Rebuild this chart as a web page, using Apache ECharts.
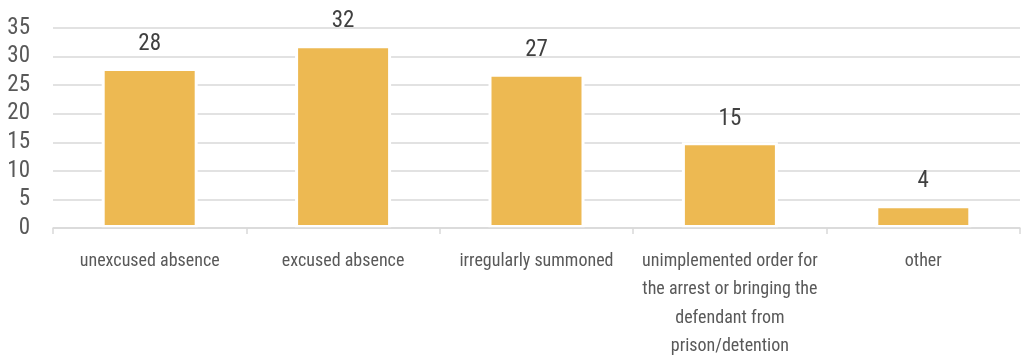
<!DOCTYPE html>
<html>
<head>
<meta charset="utf-8">
<script src="https://cdn.jsdelivr.net/npm/echarts@6/dist/echarts.min.js"></script>
<style>
  html, body { margin: 0; padding: 0; background: #fff; }
  #chart { width: 1022px; height: 356px; }
</style>
</head>
<body>
<div id="chart"></div>
<script>
// Reasons for postponed hearings
const categories = [
  'unexcused absence',
  'excused absence',
  'irregularly summoned',
  'unimplemented order for\nthe arrest or bringing the\ndefendant from\nprison/detention',
  'other'
];
const counts = [28, 32, 27, 15, 4];
const yTicks = [0, 5, 10, 15, 20, 25, 30, 35];

// narrow face: stretch keyword goes into the font shorthand via fontStyle
const FONT = '"Roboto Condensed", "DejaVu Sans Condensed", "DejaVu Sans", sans-serif';
const STRETCH = 'condensed';

const chart = echarts.init(document.getElementById('chart'));
chart.setOption({
  animation: false,
  backgroundColor: '#ffffff',
  grid: { left: 53, right: 2, top: 28, bottom: 128, containLabel: false, outerBoundsMode: 'none' },
  xAxis: {
    type: 'category',
    data: categories,
    z: 5,
    axisLine: { lineStyle: { color: '#d9d9d9', width: 1.5 } },
    axisTick: { show: true, length: 6, lineStyle: { color: '#d9d9d9', width: 1.5 } },
    axisLabel: {
      interval: 0,
      margin: 19,
      color: '#595959',
      fontFamily: FONT,
      fontStyle: STRETCH,
      fontSize: 18,
      lineHeight: 28.5
    }
  },
  yAxis: {
    type: 'value',
    min: yTicks[0],
    max: yTicks[yTicks.length - 1],
    interval: 5,
    axisLine: { show: false },
    axisTick: { show: false },
    splitLine: { lineStyle: { color: '#d9d9d9', width: 1.5 } },
    axisLabel: {
      margin: 23,
      color: '#595959',
      fontFamily: FONT,
      fontStyle: STRETCH,
      fontSize: 23
    }
  },
  series: [{
    type: 'bar',
    data: counts,
    barWidth: 96,
    itemStyle: { color: '#edb952', borderColor: '#ffffff', borderWidth: 3 },
    label: {
      show: true,
      position: 'top',
      distance: 12,
      color: '#404040',
      fontFamily: FONT,
      fontStyle: STRETCH,
      fontSize: 23
    }
  }]
});
</script>
</body>
</html>
